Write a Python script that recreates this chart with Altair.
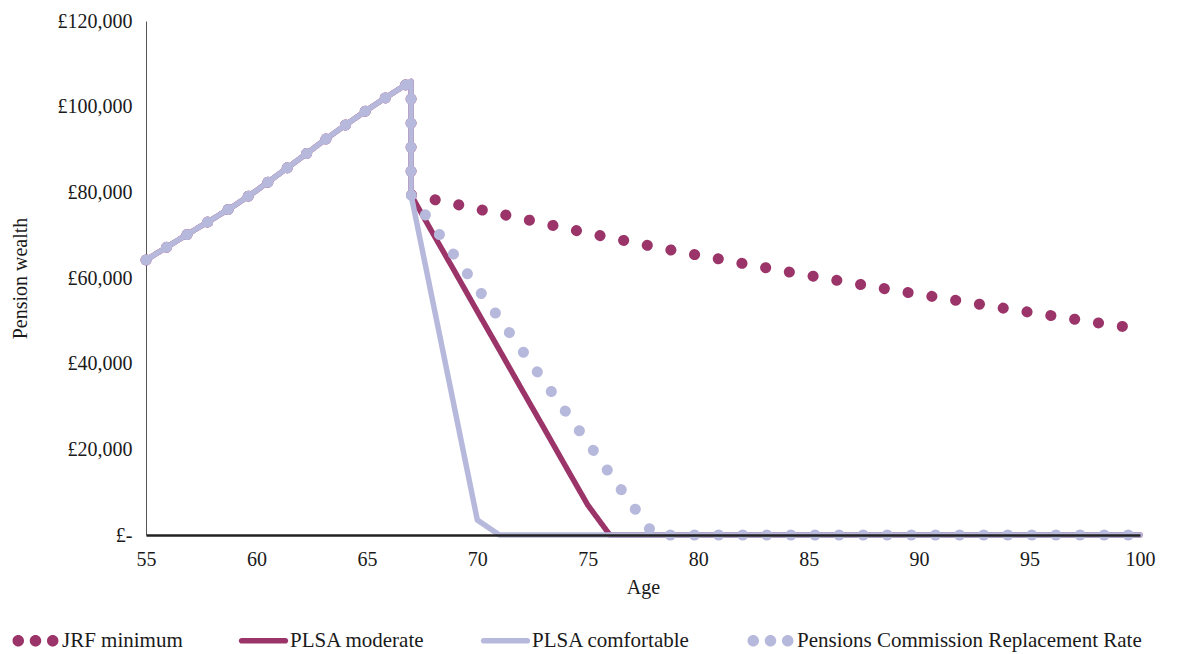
import altair as alt
import pandas as pd

series_names = [
    "JRF minimum",
    "PLSA moderate",
    "PLSA comfortable",
    "Pensions Commission Replacement Rate",
]
series_colors = ["#9B3468", "#9B3468", "#B7B9DC", "#B7B9DC"]

# Accumulation phase, shared by every series (age 55 to 67)
accum_ages = [55, 56, 57, 58, 59, 60, 61, 62, 63, 64, 65, 66, 67]
accum_wealth = [64200, 67400, 70600, 73700, 76900, 80400, 84200, 88000,
                91900, 95600, 99200, 102600, 105900]

# Drawdown phase after the lump sum is taken at 67 (age 67 to 100)
draw_ages = [67, 68, 69, 70, 71, 72, 73, 74, 75, 76, 77, 78, 79, 80, 81, 82, 83,
             84, 85, 86, 87, 88, 89, 90, 91, 92, 93, 94, 95, 96, 97, 98, 99, 100]
jrf_minimum = [79400, 78350, 77250, 76100, 75000, 73900, 72750, 71600, 70500,
               69400, 68400, 67300, 66300, 65300, 64400, 63400, 62450, 61500,
               60600, 59700, 58800, 57900, 57000, 56200, 55350, 54500, 53650,
               52800, 52000, 51200, 50400, 49600, 48850, 48100]
plsa_moderate = [79400, 70300, 61300, 52200, 43200, 34100, 25100, 16000, 7000,
                 0, 0, 0, 0, 0, 0, 0, 0, 0, 0, 0, 0, 0, 0, 0, 0, 0, 0, 0, 0,
                 0, 0, 0, 0, 0]
plsa_comfortable = [79400, 54100, 28800, 3500, 0, 0, 0, 0, 0, 0, 0, 0, 0, 0,
                    0, 0, 0, 0, 0, 0, 0, 0, 0, 0, 0, 0, 0, 0, 0, 0, 0, 0, 0, 0]
pc_replacement = [79400, 72200, 65000, 57700, 50500, 43300, 36000, 28800, 21600,
                  14300, 7100, 0, 0, 0, 0, 0, 0, 0, 0, 0, 0, 0, 0, 0, 0, 0, 0,
                  0, 0, 0, 0, 0, 0, 0]

x_ticks = [55, 60, 65, 70, 75, 80, 85, 90, 95, 100]
y_ticks = [0, 20000, 40000, 60000, 80000, 100000, 120000]

drawdown = {
    "JRF minimum": jrf_minimum,
    "PLSA moderate": plsa_moderate,
    "PLSA comfortable": plsa_comfortable,
    "Pensions Commission Replacement Rate": pc_replacement,
}

rows = []
for name in series_names:
    seq = 0
    for a, w in zip(accum_ages, accum_wealth):
        rows.append({"series": name, "age": a, "wealth": w, "seq": seq})
        seq += 1
    for a, w in zip(draw_ages, drawdown[name]):
        rows.append({"series": name, "age": a, "wealth": w, "seq": seq})
        seq += 1
df = pd.DataFrame(rows)

FONT = "Liberation Serif"
TXT = "#1a1a1a"

# legend glyphs (unit-square SVG paths): three round dots, or a thick bar
DOTS = ("M -4,0 A 1,1 0 1,0 -2,0 A 1,1 0 1,0 -4,0 Z "
        "M -1,0 A 1,1 0 1,0 1,0 A 1,1 0 1,0 -1,0 Z "
        "M 2,0 A 1,1 0 1,0 4,0 A 1,1 0 1,0 2,0 Z")
BAR = "M -3.8,-0.5 L 3.8,-0.5 A 0.5,0.5 0 0,1 3.8,0.5 L -3.8,0.5 A 0.5,0.5 0 0,1 -3.8,-0.5 Z"

# line-layer scales list the series in reverse so they are not merged with the legend scales
line_domain = series_names[::-1]
line_colors = series_colors[::-1]
line_dashes = [[0.1, 24], [1, 0], [1, 0], [0.1, 24]][::-1]
line_widths = [11, 5.5, 5.5, 11][::-1]

lines = (
    alt.Chart(df)
    .mark_line(strokeCap="round", strokeJoin="round")
    .encode(
        x=alt.X(
            "age:Q",
            scale=alt.Scale(domain=[55, 100], nice=False, zero=False),
            axis=alt.Axis(
                values=x_ticks,
                title="Age",
                ticks=False,
                grid=False,
                labelFlush=False,
                domainColor="#222222",
                domainWidth=2.5,
                labelFont=FONT,
                labelFontSize=20,
                labelColor=TXT,
                labelPadding=14,
                titleFont=FONT,
                titleFontSize=20,
                titleFontWeight="normal",
                titleColor=TXT,
                titlePadding=8,
                zindex=1,
            ),
        ),
        y=alt.Y(
            "wealth:Q",
            scale=alt.Scale(domain=[0, 120000], nice=False),
            axis=alt.Axis(
                values=y_ticks,
                title="Pension wealth",
                labelExpr="datum.value == 0 ? '£-' : '£' + format(datum.value, ',')",
                ticks=False,
                grid=False,
                labelFlush=False,
                domainColor="#555555",
                domainWidth=1,
                labelFont=FONT,
                labelFontSize=20,
                labelColor=TXT,
                labelPadding=14,
                titleFont=FONT,
                titleFontSize=20,
                titleFontWeight="normal",
                titleColor=TXT,
                titlePadding=27,
            ),
        ),
        stroke=alt.Stroke(
            "series:N",
            scale=alt.Scale(domain=line_domain, range=line_colors),
            legend=None,
        ),
        strokeDash=alt.StrokeDash(
            "series:N",
            scale=alt.Scale(domain=line_domain, range=line_dashes),
            legend=None,
        ),
        strokeWidth=alt.StrokeWidth(
            "series:N",
            scale=alt.Scale(type="ordinal", domain=line_domain, range=line_widths),
            legend=None,
        ),
        order=alt.Order("seq:Q"),
    )
)

legend = alt.Legend(
    title=None,
    orient="none",
    legendX=-138,
    legendY=609,
    direction="horizontal",
    columns=4,
    symbolSize=132,
    symbolOffset=17,
    labelFont=FONT,
    labelFontSize=21,
    labelColor=TXT,
    labelOffset=16,
    labelLimit=600,
    columnPadding=52,
)

legend_keys = (
    alt.Chart(df)
    .transform_filter("datum.age < 0")
    .mark_point(filled=True, size=132, opacity=1, strokeWidth=0)
    .encode(
        fill=alt.Fill(
            "series:N",
            scale=alt.Scale(domain=series_names, range=series_colors),
            legend=legend,
        ),
        shape=alt.Shape(
            "series:N",
            scale=alt.Scale(domain=series_names, range=[DOTS, BAR, BAR, DOTS]),
            legend=legend,
        ),
    )
)

chart = (
    alt.layer(lines, legend_keys)
    .properties(
        width=994,
        height=514,
        background="white",
        autosize=alt.AutoSizeParams(type="none"),
        padding={"left": 138, "top": 13, "right": 40, "bottom": 120},
    )
    .configure_view(stroke=None)
)

chart.save("out.html", embed_options={"renderer": "svg", "actions": False})
